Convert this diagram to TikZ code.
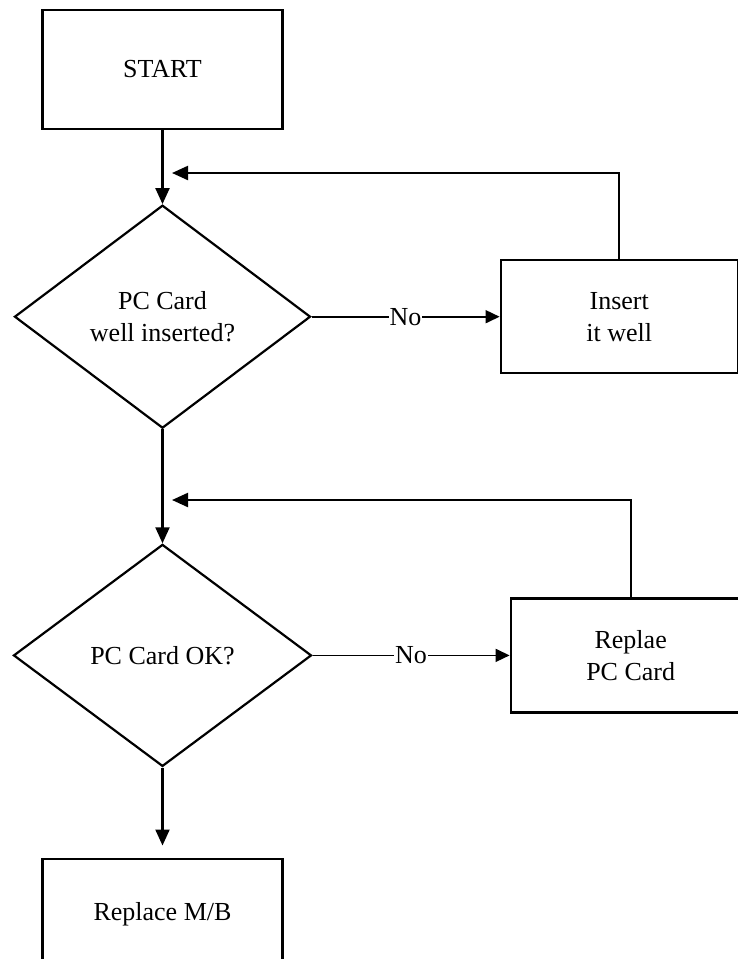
\documentclass[tikz,border=0pt]{standalone}
\usepackage{fontspec}
\setmainfont{Liberation Serif}
\usepackage{tikz}
\usetikzlibrary{shapes.geometric, arrows.meta, positioning}

\begin{document}
\begin{tikzpicture}[x=1pt, y=-1pt, font=\fontsize{26}{32}\selectfont,
    box/.style={draw, rectangle, line width=2.2pt, minimum width=240pt, align=center, inner sep=0pt},
    check/.style={draw, diamond, aspect=1.33, line width=2.2pt, inner sep=0pt, align=center},
    flow/.style={-{Triangle[length=16pt, width=14pt]}, line width=2.2pt},
    nolink/.style={-{Triangle[length=14pt, width=13pt]}, line width=1.6pt},
    nolabel/.style={fill=white, inner sep=1pt}]
    \useasboundingbox (0,0) rectangle (738,959);
    % main column
    \node[box, minimum height=119pt] (start) at (162.5,69.5) {START};
    \node[check, minimum width=296pt, minimum height=223pt, below=74pt of start] (q1) {PC Card\\well inserted?};
    \node[check, minimum width=298pt, minimum height=222pt, below=114pt of q1] (q2) {PC Card OK?};
    \node[box, minimum height=112pt, below=90pt of q2] (mb) {Replace M/B};
    % repair boxes
    \node[box, minimum width=237pt, minimum height=113pt, right=188pt of q1] (ins) {Insert\\it well};
    \node[box, minimum height=114pt, right=197pt of q2] (rep) {Replae\\PC Card};
    \coordinate (back1) at (172,173);
    \coordinate (back2) at (172,500);
    % connectors
    \draw[flow] (start) -- (q1);
    \draw[flow] (q1) -- (q2);
    \draw[flow, shorten >=12pt] (q2) -- (mb);
    \draw[nolink] (q1) -- node[nolabel] {No} (ins);
    \draw[nolink] (q2) -- node[nolabel] {No} (rep);
    \draw[flow] (ins.north) |- (back1);
    \draw[flow] (rep.north) |- (back2);
\end{tikzpicture}
\end{document}
